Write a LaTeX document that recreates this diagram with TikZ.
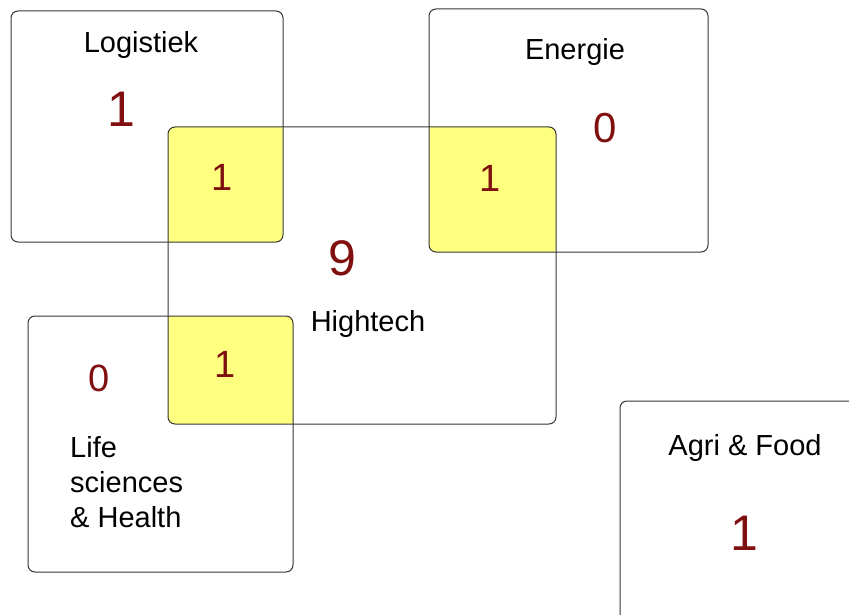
\documentclass[tikz,border=0pt]{standalone}
\usepackage{fontspec}
\setmainfont{Liberation Sans}
\definecolor{numred}{RGB}{128,16,16}
\definecolor{overlap}{RGB}{255,255,128}
\definecolor{frame}{RGB}{55,55,55}
\begin{document}
\begin{tikzpicture}[x=1pt,y=-1pt,
  sector/.style={draw=frame,line width=1pt,rounded corners=7pt},
  title/.style={inner sep=0pt,anchor=base,text=black,font=\fontsize{29}{35}\selectfont},
  count/.style={inner sep=0pt,anchor=base,text=numred},
  big/.style={font=\fontsize{50}{50}\selectfont},
  mid/.style={font=\fontsize{42}{42}\selectfont},
  small/.style={font=\fontsize{38}{38}\selectfont},
]
\useasboundingbox (0,0) rectangle (849,615);
\fill[white] (0,0) rectangle (849,615);

% shared areas with the Hightech sector
\begin{scope}
  \clip[rounded corners=7pt] (168,127) rectangle (556,424);
  \fill[overlap,rounded corners=7pt] (11,11) rectangle (283,242);
  \fill[overlap,rounded corners=7pt] (429,9) rectangle (708,252);
  \fill[overlap,rounded corners=7pt] (28,316) rectangle (293,572);
\end{scope}

% sector outlines
\begin{scope}
  \clip (0,0) rectangle (849,615);
  \draw[sector] (11,11) rectangle (283,242);
  \draw[sector] (429,9) rectangle (708,252);
  \draw[sector] (168,127) rectangle (556,424);
  \draw[sector] (28,316) rectangle (293,572);
  \draw[sector] (620,401) rectangle (870,622);
\end{scope}

% Logistiek
\node[title] (logistiek) at (141,53) {Logistiek};
\node[count,big] (nlog) at (121,127) {1};
\node[count,small] (nloghigh) at (222,190) {1};

% Energie
\node[title] (energie) at (575,60) {Energie};
\node[count,mid] (nen) at (605,143) {0};
\node[count,small] (nenhigh) at (490,191) {1};

% Hightech
\node[count,big] (nhigh) at (342,275) {9};
\node[title] (hightech) at (368,331) {Hightech};

% Life sciences & Health
\node[count,small] (nlifehigh) at (225,377) {1};
\node[count,small] (nlife) at (99,391) {0};
\node[inner sep=0pt,anchor=north west,align=left,font=\fontsize{29}{35}\selectfont] (life) at (70,436) {Life\\sciences\\\& Health};

% Agri & Food
\node[title] (agri) at (745,455) {Agri \& Food};
\node[count,big] (nagri) at (744,550) {1};
\end{tikzpicture}
\end{document}
